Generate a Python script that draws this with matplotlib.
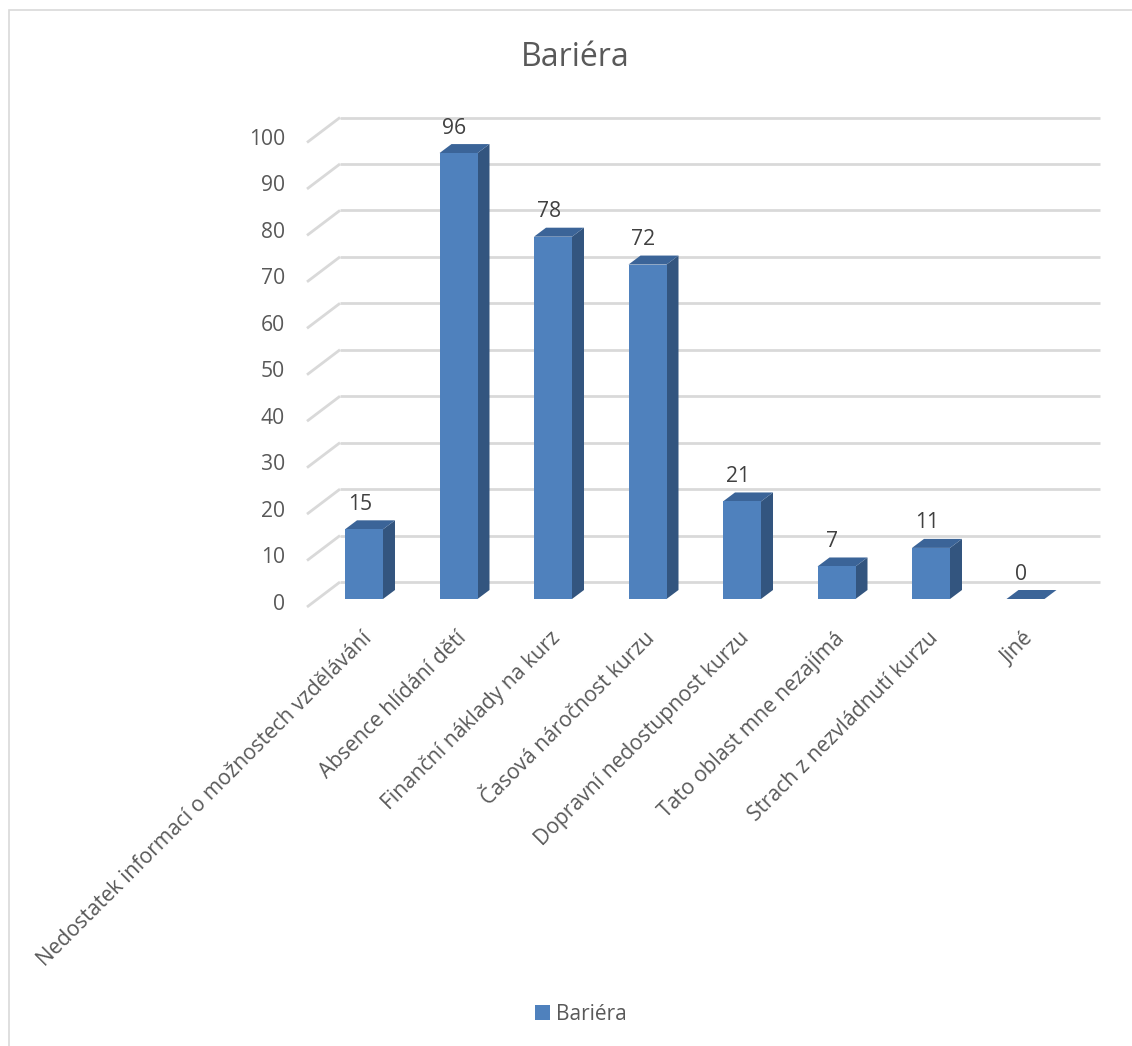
import matplotlib
matplotlib.use('Agg')
import matplotlib.pyplot as plt
from matplotlib.patches import Polygon, Rectangle, Patch

plt.rcParams['font.family'] = ['Open Sans', 'DejaVu Sans']

categories = ['Nedostatek informací o možnostech vzdělávání', 'Absence hlídání dětí',
              'Finanční náklady na kurz', 'Časová náročnost kurzu',
              'Dopravní nedostupnost kurzu', 'Tato oblast mne nezajímá',
              'Strach z nezvládnutí kurzu', 'Jiné']
values = [15, 96, 78, 72, 21, 7, 11, 0]
yticks = list(range(0, 101, 10))
title = 'Bariéra'

W, H = 1132, 1046
px_x = 94.5    # pixels per category
px_y = 4.645   # pixels per unit of value
x0, y0 = 364, 599  # pixel position of first bar centre, value 0
fs = 15.2

fig = plt.figure(figsize=(W / 100, H / 100), dpi=100)
ax = fig.add_axes([0, 0, 1, 1])
ax.set_xlim(-x0 / px_x, (W - x0) / px_x)
ax.set_ylim((y0 - H) / px_y, y0 / px_y)
ax.axis('off')

def dx(p):
    return p / px_x

def dy(p):
    return p / px_y

# chart border
fig.patches.append(Rectangle((9 / W, -0.1), 1.2, 1 - 10 / H + 0.1, transform=fig.transFigure,
                             fill=False, edgecolor='#D9D9D9', linewidth=1.2))

grid_c = '#D9D9D9'
back_l, back_r = dx(340 - x0), dx(1100 - x0)
front_l = dx(307 - x0)
for t in yticks:
    yb = t + dy(17)
    yf = t - dy(8)
    ax.plot([back_l, back_r], [yb, yb], color=grid_c, lw=2, zorder=1, solid_capstyle='butt')
    ax.plot([front_l, back_l], [yf, yb], color=grid_c, lw=2, zorder=1, solid_capstyle='butt')
    ax.text(dx(285 - x0), t - dy(5), str(t), ha='right', va='center',
            fontsize=fs, color='#595959')

front_c = '#4F81BD'
side_c = '#33557F'
top_c = '#3B6498'
hw = dx(19)
ddx, ddy = dx(12), dy(9)
for i, v in enumerate(values):
    l, r = i - hw, i + hw
    ax.add_patch(Polygon([(r, 0), (r + ddx, ddy), (r + ddx, v + ddy), (r, v)],
                         closed=True, facecolor=side_c, edgecolor='none', zorder=3))
    ax.add_patch(Polygon([(l, v), (r, v), (r + ddx, v + ddy), (l + ddx, v + ddy)],
                         closed=True, facecolor=top_c, edgecolor='none', zorder=3))
    if v > 0:
        ax.add_patch(Rectangle((l, 0), 2 * hw, v, facecolor=front_c, edgecolor='none', zorder=4))
    ax.text(i - dx(4), v + dy(25), str(v), ha='center', va='center',
            fontsize=fs, color='#404040', zorder=5)
    ax.text(i - dx(3), -dy(29), categories[i], rotation=45, rotation_mode='anchor',
            ha='right', va='top', fontsize=fs, color='#595959')

fig.text(575 / W, 1 - 57 / H, title, ha='center', va='center', fontsize=23, color='#595959')

fig.legend(handles=[Patch(facecolor=front_c, label=title)], loc='center',
           bbox_to_anchor=(581 / W, 1 - 1014 / H), frameon=False, fontsize=15,
           handlelength=0.7, handleheight=0.7, handletextpad=0.3, labelcolor='#595959')

fig.savefig('out.png', dpi=100)
